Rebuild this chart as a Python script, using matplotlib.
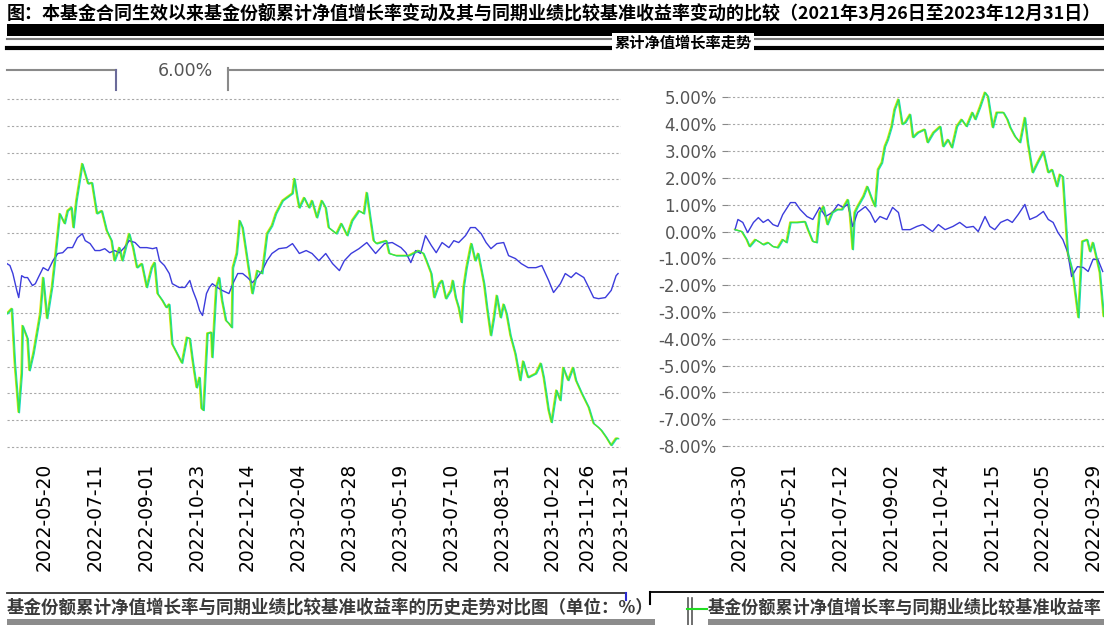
import numpy as np
import pandas as pd
import matplotlib
matplotlib.use("Agg")
import matplotlib.pyplot as plt
from matplotlib.lines import Line2D
from matplotlib.patches import Rectangle
from matplotlib.ticker import FuncFormatter, FixedLocator
import matplotlib.transforms as mtransforms

plt.rcParams['font.family'] = ['DejaVu Sans', 'Noto Sans CJK SC']

# ---------------- data ----------------
title_text = "图：本基金合同生效以来基金份额累计净值增长率变动及其与同期业绩比较基准收益率变动的比较（2021年3月26日至2023年12月31日）"
subtitle_text = "累计净值增长率走势"
legend_left_text = "基金份额累计净值增长率与同期业绩比较基准收益率的历史走势对比图（单位：%）"
legend_right_text = "基金份额累计净值增长率与同期业绩比较基准收益率"
top_label = "6.00%"

left_start = "2022-04-12"
left_fund_days = [0, 5, 8, 12, 15, 16, 21, 23, 27, 31, 34, 37, 41, 46, 49, 54, 59, 62, 66, 68, 71, 77, 80, 83, 87,
                  92, 97, 102, 107, 110, 115, 118, 125, 129, 133, 138, 143, 148, 151, 154, 159, 163, 166, 169, 179,
                  184, 187, 190, 194, 197, 199, 201, 205, 209, 210, 214, 217, 220, 224, 227, 230, 231, 235, 238, 241,
                  246, 251, 256, 261, 266, 271, 275, 282, 292, 294, 297, 299, 304, 309, 312, 317, 322, 326, 329, 337,
                  342, 348, 353, 360, 365, 368, 372, 375, 378, 388, 391, 398, 411, 421, 426, 429, 434, 437, 442, 445,
                  449, 454, 456, 459, 462, 465, 467, 470, 474, 475, 479, 482, 488, 491, 495, 498, 501, 505, 508, 511,
                  515, 520, 525, 528, 533, 541, 546, 549, 554, 557, 562, 566, 569, 574, 579, 582, 588, 595, 600, 605,
                  608, 613, 618, 623, 625]
left_fund = [-3.02, -2.83, -4.88, -6.72, -5.26, -3.47, -3.95, -5.15, -4.52, -3.66, -3.02, -1.67, -3.20, -2.04, -1.04,
             0.72, 0.35, 0.83, 0.95, 0.20, 1.21, 2.59, 2.22, 1.84, 1.88, 0.72, 0.83, 0.09, -0.29, -1.04, -0.55, -1.04,
             -0.03, -0.55, -1.30, -1.15, -2.04, -1.30, -1.11, -2.27, -2.53, -2.79, -2.67, -4.16, -4.87, -3.91, -3.95,
             -4.80, -5.79, -5.41, -6.57, -6.64, -3.76, -3.72, -4.66, -2.04, -1.67, -2.53, -3.28, -3.39, -3.54, -1.30,
             -0.77, 0.46, 0.20, -1.04, -2.27, -1.41, -1.52, -0.03, 0.27, 0.72, 1.21, 1.48, 2.03, 1.33, 0.94, 1.32,
             0.94, 1.21, 0.57, 1.21, 0.94, 0.20, -0.03, 0.35, -0.10, 0.46, 0.83, 0.72, 1.51, 0.46, -0.29, -0.40,
             -0.29, -0.77, -0.85, -0.85, -0.66, -0.77, -1.04, -1.52, -2.42, -1.90, -1.78, -2.46, -2.15, -1.78, -2.42,
             -2.79, -3.35, -2.04, -1.30, -0.55, -0.40, -1.04, -0.77, -1.90, -2.79, -3.84, -3.17, -2.34, -3.17, -2.67,
             -3.02, -3.84, -4.52, -5.52, -4.80, -5.41, -5.26, -4.88, -5.41, -6.64, -7.09, -5.89, -6.27, -5.04, -5.52,
             -5.04, -5.52, -6.01, -6.53, -7.13, -7.28, -7.39, -7.65, -7.95, -7.69, -7.69]

left_bench_days = [0, 3, 6, 10, 12, 15, 18, 21, 26, 29, 32, 37, 42, 47, 52, 57, 62, 67, 72, 77, 80, 85, 90, 95, 100,
                   105, 110, 115, 120, 125, 131, 136, 143, 149, 153, 156, 161, 166, 169, 176, 182, 187, 190, 194, 197,
                   200, 204, 207, 210, 215, 220, 227, 231, 236, 241, 246, 251, 256, 261, 266, 271, 278, 286, 292, 297,
                   299, 306, 312, 319, 326, 333, 340, 345, 352, 360, 368, 377, 386, 394, 403, 408, 413, 418, 423, 428,
                   434, 439, 445, 452, 457, 462, 469, 474, 479, 485, 490, 495, 501, 508, 513, 520, 526, 533, 541, 547,
                   554, 559, 566, 571, 577, 582, 590, 595, 600, 605, 612, 618, 623, 625]
left_bench = [-1.15, -1.22, -1.52, -2.15, -2.42, -1.60, -1.67, -1.67, -1.97, -1.90, -1.67, -1.30, -1.41, -1.04, -0.77,
              -0.74, -0.55, -0.55, -0.18, -0.03, -0.29, -0.40, -0.66, -0.66, -0.59, -0.74, -0.66, -0.74, -0.55, -0.29,
              -0.36, -0.55, -0.55, -0.59, -0.55, -1.04, -1.22, -1.52, -1.90, -2.04, -2.04, -1.78, -2.15, -2.53, -2.91,
              -3.09, -2.27, -2.04, -1.90, -2.04, -2.15, -2.27, -1.90, -1.52, -1.52, -1.67, -1.86, -1.67, -1.41, -1.04,
              -0.77, -0.59, -0.55, -0.40, -0.66, -0.77, -0.66, -0.77, -1.04, -0.77, -1.15, -1.41, -1.04, -0.77, -0.59,
              -0.36, -0.77, -0.40, -0.36, -0.55, -0.74, -1.11, -0.66, -0.77, -0.10, -0.47, -0.74, -0.36, -0.55, -0.29,
              -0.36, -0.10, 0.20, 0.20, -0.03, -0.36, -0.59, -0.40, -0.36, -0.85, -0.96, -1.15, -1.30, -1.30, -1.22,
              -1.78, -2.23, -1.90, -1.52, -1.67, -1.49, -1.67, -2.04, -2.42, -2.46, -2.42, -2.15, -1.60, -1.52]

left_ticks = ["2022-05-20", "2022-07-11", "2022-09-01", "2022-10-23", "2022-12-14", "2023-02-04", "2023-03-28",
              "2023-05-19", "2023-07-10", "2023-08-31", "2023-10-22", "2023-11-26", "2023-12-31"]

right_start = "2021-03-26"
right_fund_days = [0, 7, 12, 15, 21, 26, 29, 34, 39, 44, 49, 53, 57, 64, 72, 75, 80, 84, 87, 91, 95, 100, 105, 110,
                   116, 118, 121, 123, 126, 132, 136, 141, 144, 147, 151, 154, 157, 161, 164, 168, 172, 175, 180, 183,
                   188, 195, 198, 204, 211, 214, 219, 223, 228, 233, 238, 244, 247, 252, 257, 260, 265, 269, 276, 280,
                   283, 288, 293, 298, 301, 306, 311, 317, 322, 326, 331, 334, 337, 342, 347, 353, 357, 362, 365, 368,
                   372, 375, 379]
right_fund = [0.07, 0.00, -0.30, -0.56, -0.30, -0.41, -0.49, -0.41, -0.56, -0.60, -0.30, -0.41, 0.34, 0.34, 0.37, 0.07,
              -0.37, -0.41, 0.71, 0.93, 0.26, 0.71, 0.82, 0.82, 1.19, 0.71, -0.67, 0.71, 0.93, 1.31, 1.68, 1.19, 0.93,
              2.31, 2.57, 3.17, 3.43, 3.92, 4.55, 4.93, 4.00, 4.07, 4.37, 3.51, 3.69, 3.81, 3.32, 3.69, 3.92, 3.17,
              3.43, 3.13, 3.92, 4.18, 3.92, 4.44, 4.18, 4.66, 5.19, 5.04, 3.88, 4.44, 4.44, 4.18, 3.88, 3.54, 3.32,
              4.25, 3.32, 2.20, 2.57, 2.99, 2.20, 2.31, 1.68, 2.13, 2.05, -0.78, -1.49, -3.21, -0.37, -0.30, -0.75,
              -0.41, -1.04, -1.53, -3.17]

right_bench_days = [0, 3, 8, 13, 19, 24, 29, 34, 39, 44, 49, 57, 62, 67, 74, 80, 87, 93, 100, 106, 111, 116, 121, 126,
                    134, 139, 144, 149, 156, 162, 168, 172, 180, 187, 193, 203, 209, 216, 224, 231, 238, 245, 250, 257,
                    262, 267, 273, 280, 285, 291, 298, 303, 310, 317, 322, 327, 332, 337, 342, 346, 352, 358, 363, 368,
                    373, 378]
right_bench = [0.07, 0.45, 0.34, -0.04, 0.34, 0.52, 0.34, 0.45, 0.26, 0.19, 0.63, 1.08, 1.08, 0.82, 0.56, 0.45, 0.90,
               0.56, 0.71, 1.01, 0.90, 1.01, 0.19, 0.71, 0.93, 0.71, 0.34, 0.56, 0.45, 0.90, 0.71, 0.07, 0.07, 0.19,
               0.26, 0.00, 0.26, 0.07, 0.19, 0.34, 0.15, 0.19, 0.00, 0.56, 0.19, 0.07, 0.34, 0.45, 0.34, 0.63, 1.01,
               0.45, 0.56, 0.75, 0.45, 0.34, -0.04, -0.30, -0.78, -1.68, -1.31, -1.34, -1.49, -1.04, -1.04, -1.49]

right_ticks = ["2021-03-30", "2021-05-21", "2021-07-12", "2021-09-02", "2021-10-24", "2021-12-15", "2022-02-05",
               "2022-03-29"]

y_ticks = [5, 4, 3, 2, 1, 0, -1, -2, -3, -4, -5, -6, -7, -8]

# ---------------- styling ----------------
W, H = 1104, 625
GREEN = "#3fe43f"
BLUE = "#3c3cdc"
GRID = "#a8a8a8"

fig = plt.figure(figsize=(W / 100, H / 100), dpi=100)
fig.patch.set_facecolor("white")


def fx(px):
    return px / W


def fy(py):
    return 1 - py / H


def hline(x0, x1, y, color, lw):
    fig.add_artist(Line2D([fx(x0), fx(x1)], [fy(y), fy(y)], transform=fig.transFigure, color=color, lw=lw))


def vline(x, y0, y1, color, lw):
    fig.add_artist(Line2D([fx(x), fx(x)], [fy(y0), fy(y1)], transform=fig.transFigure, color=color, lw=lw))


def to_dates(start, days):
    return pd.Timestamp(start) + pd.to_timedelta(np.array(days), unit="D")


def glitch_plot(ax, x, y, color, lw, fringe=True):
    if fringe:
        t1 = mtransforms.offset_copy(ax.transData, fig=fig, x=-0.8, y=0.4, units="dots")
        t2 = mtransforms.offset_copy(ax.transData, fig=fig, x=0.8, y=-0.4, units="dots")
        ax.plot(x, y, color="#e6e60a", lw=lw * 0.8, transform=t1, zorder=3)
        ax.plot(x, y, color="#19d8d8", lw=lw * 0.8, transform=t2, zorder=3)
    ax.plot(x, y, color=color, lw=lw, zorder=4)


def fit_text(txt, target_px, base):
    fig.canvas.draw()
    w = txt.get_window_extent().width
    txt.set_fontsize(base * target_px / w)


def style_axes(ax, show_ylabels):
    for s in ax.spines.values():
        s.set_visible(False)
    ax.set_ylim(-8.35, 5.35)
    ax.yaxis.set_major_locator(FixedLocator(y_ticks))
    ax.yaxis.grid(True, color=GRID, linestyle=(0, (2, 2)), lw=0.8)
    ax.xaxis.grid(False)
    ax.set_axisbelow(True)
    if show_ylabels:
        ax.yaxis.set_major_formatter(FuncFormatter(lambda v, p: f"{v:.2f}%"))
        ax.tick_params(axis="y", length=4, width=0.8, color="#888888", labelcolor="#555555",
                       labelsize=12, pad=4)
    else:
        ax.tick_params(axis="y", left=False, labelleft=False)
    ax.tick_params(axis="x", length=0, labelsize=13.5, labelcolor="black", pad=5, labelrotation=90)


# ---------------- left panel ----------------
axL = fig.add_axes([fx(7), 1 - 456.05 / H, 614 / W, (456.05 - 89.95) / H])
style_axes(axL, False)
lf_x = to_dates(left_start, left_fund_days)
lb_x = to_dates(left_start, left_bench_days)
glitch_plot(axL, lb_x, left_bench, BLUE, 1.0, fringe=False)
glitch_plot(axL, lf_x, left_fund, GREEN, 1.0)
axL.set_xlim(pd.Timestamp(left_start), pd.Timestamp(left_start) + pd.Timedelta(days=626))
axL.set_xticks(pd.to_datetime(left_ticks))
axL.set_xticklabels(left_ticks)

# ---------------- right panel ----------------
axR = fig.add_axes([fx(728), 1 - 455.4 / H, 376 / W, (455.4 - 88.1) / H])
style_axes(axR, True)
rf_x = to_dates(right_start, right_fund_days)
rb_x = to_dates(right_start, right_bench_days)
glitch_plot(axR, rb_x, right_bench, BLUE, 1.0, fringe=False)
glitch_plot(axR, rf_x, right_fund, GREEN, 1.0)
axR.set_xlim(pd.Timestamp(right_start) - pd.Timedelta(days=7.2),
             pd.Timestamp(right_start) + pd.Timedelta(days=379.3))
axR.set_xticks(pd.to_datetime(right_ticks))
axR.set_xticklabels(right_ticks)

# ---------------- header ----------------
t = fig.text(fx(7), fy(14), title_text, ha="left", va="center", fontsize=11.5, fontweight="bold",
             color="black", family=["Noto Sans CJK SC", "DejaVu Sans"])
fit_text(t, 1095, 11.5)

fig.add_artist(Rectangle((fx(7), fy(36)), fx(1104) - fx(7), 12 / H, transform=fig.transFigure,
                         facecolor="black", edgecolor="none"))
hline(7, 1104, 38.5, "#7a7a7a", 1.5)
hline(7, 1104, 48, "black", 3)
fig.text(fx(683), fy(43), subtitle_text, ha="center", va="center", fontsize=11, fontweight="bold",
         color="black", family=["Noto Sans CJK SC", "DejaVu Sans"],
         bbox=dict(facecolor="white", edgecolor="none", pad=1.5))

# upper box fragments
hline(7, 116, 70, "#8a8a8a", 1.5)
vline(116, 70, 90, "#6b6b9a", 1.5)
fig.text(fx(158), fy(71), top_label, ha="left", va="center", fontsize=12.5, color="#555555")
vline(228, 68, 90, "#8a8a8a", 1.5)
hline(228, 1104, 70, "#8a8a8a", 1.5)

# ---------------- bottom legend fragments ----------------
hline(7, 626, 593, "#333333", 1.3)
vline(626, 593, 600, "#2a2ad0", 1.5)
vline(650, 592, 604, "black", 1.5)
hline(650, 1104, 592, "black", 1.3)

fig.add_artist(Rectangle((fx(7), fy(625)), fx(655) - fx(7), 6 / H, transform=fig.transFigure,
                         facecolor="#8c8c8c", edgecolor="none"))
fig.add_artist(Rectangle((fx(708), fy(625)), fx(1104) - fx(708), 6 / H, transform=fig.transFigure,
                         facecolor="#8c8c8c", edgecolor="none"))
lt = fig.text(fx(7), fy(608), legend_left_text, ha="left", va="center", fontsize=11, fontweight="bold",
              color="#3a3a3a", family=["Noto Sans CJK SC", "DejaVu Sans"])
fit_text(lt, 646, 11)

vline(688, 598, 625, "#555555", 1.2)
vline(692, 598, 625, "#555555", 1.2)
hline(687, 707, 609, "#22dd22", 1.5)
rt = fig.text(fx(708), fy(608), legend_right_text, ha="left", va="center", fontsize=12, fontweight="bold",
              color="#3a3a3a", family=["Noto Sans CJK SC", "DejaVu Sans"])
fit_text(rt, 392, 12)

fig.savefig("out.png", dpi=100)
